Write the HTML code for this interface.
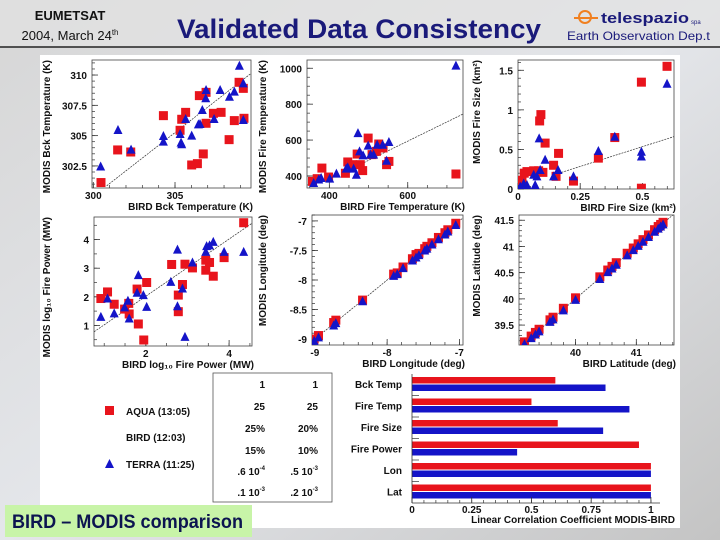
<!DOCTYPE html>
<html><head><meta charset="utf-8"><style>
html,body{margin:0;padding:0;width:720px;height:540px;overflow:hidden;background:#cfd0d4}
svg{display:block}
text{font-family:"Liberation Sans",sans-serif}
</style></head><body>
<svg id="s" width="720" height="540" viewBox="0 0 720 540">
<defs>
<linearGradient id="bg" x1="0" y1="0" x2="1" y2="1">
<stop offset="0" stop-color="#d6d6d6"/><stop offset="0.5" stop-color="#e4e6ea"/><stop offset="1" stop-color="#c4c4c4"/>
</linearGradient>
</defs>
<rect width="720" height="540" fill="url(#bg)"/>
<rect x="0" y="0" width="720" height="47" fill="#e2e2e2" opacity="0.7"/>
<text x="70" y="20" text-anchor="middle" font-size="13" font-weight="bold" fill="#111">EUMETSAT</text>
<text x="70" y="40" text-anchor="middle" font-size="13" fill="#111">2004, March 24<tspan font-size="8" dy="-5">th</tspan></text>
<text x="177" y="38" font-size="27" font-weight="bold" fill="#1a1a7a" textLength="364" lengthAdjust="spacingAndGlyphs">Validated Data Consistency</text>
<g>
<circle cx="585" cy="17" r="6" fill="none" stroke="#f08020" stroke-width="2"/>
<line x1="574" y1="18" x2="598" y2="18" stroke="#f08020" stroke-width="2"/>
<text x="601" y="23" font-size="15" font-weight="bold" fill="#1a1a7a" textLength="88" lengthAdjust="spacingAndGlyphs">telespazio</text>
<text x="691" y="24" font-size="6" fill="#1a1a7a">spa</text>
</g>
<text x="567" y="40" font-size="12" fill="#1a1a7a" textLength="143" lengthAdjust="spacingAndGlyphs">Earth Observation Dep.t</text>
<line x1="0" y1="47" x2="720" y2="47" stroke="#222" stroke-width="1.5"/>
<rect x="40" y="55" width="640" height="473" fill="#fff"/>
<g id="charts"></g>
<rect x="5" y="505" width="247" height="32" fill="#c8f4a8"/>
<text x="12" y="528" font-size="19" font-weight="bold" fill="#0c1450" textLength="231" lengthAdjust="spacingAndGlyphs">BIRD – MODIS comparison</text>
</svg>
<script>
// ---- data ----
const bckBirdRed=[300.47,301.49,302.29,304.29,305.31,305.41,305.65,306.02,306.37,306.49,306.73,306.90,306.90,307.35,307.82,308.31,308.63,308.92,309.18,309.22];
const bckModisRed=[301.13,303.82,303.65,306.65,305.44,306.35,306.92,302.58,302.69,308.30,303.49,308.57,306.02,306.84,306.92,304.67,306.24,309.40,308.90,306.43];
const bckBirdBlue=[300.45,301.51,302.31,304.29,304.29,305.31,305.37,305.41,305.65,306.02,306.43,306.53,306.67,306.88,306.90,307.39,307.76,308.33,308.63,308.94,309.18,309.18];
const bckModisBlue=[302.45,305.47,303.85,304.97,304.51,305.14,304.42,304.29,306.37,305.0,305.93,305.96,307.12,308.08,308.76,306.37,308.76,308.21,308.63,310.77,309.31,306.29];
const ftBirdRed=[357,369,381,398,441,447,458,471,479,485,499,509,520,526,537,546,552,723];
const ftModisRed=[370,385,444,394,415,478,463,522,463,430,611,519,537,578,556,463,481,411];
const ftBirdBlue=[360,373,379,401,418,443,447,462,469,473,477,486,499,505,513,522,536,546,552,723];
const ftModisBlue=[361,380,389,385,413,441,448,441,407,639,537,515,569,519,519,574,574,485,589,1015];
const fsBirdRed=[0.016,0.025,0.036,0.063,0.083,0.087,0.092,0.10,0.109,0.143,0.163,0.153,0.223,0.323,0.389,0.496,0.496,0.599];
const fsModisRed=[0.11,0.20,0.22,0.23,0.23,0.86,0.94,0.21,0.58,0.30,0.45,0.16,0.10,0.39,0.65,1.35,0.01,1.55];
const fsBirdBlue=[0.009,0.023,0.036,0.063,0.069,0.076,0.085,0.089,0.109,0.143,0.161,0.223,0.323,0.389,0.496,0.496,0.599];
const fsModisBlue=[0.03,0.07,0.05,0.18,0.05,0.16,0.64,0.24,0.37,0.16,0.24,0.16,0.48,0.66,0.47,0.41,1.33];
const fpBirdRed=[0.92,1.08,1.24,1.49,1.59,1.60,1.79,1.82,2.02,1.95,2.62,2.78,2.78,2.88,2.94,3.12,3.44,3.44,3.53,3.62,3.88,4.35];
const fpModisRed=[1.94,2.17,1.74,1.57,1.77,1.40,2.27,1.05,2.50,0.49,3.13,2.06,1.48,2.43,3.14,3.01,3.28,2.93,3.20,2.72,3.37,4.59];
const fpBirdBlue=[0.92,1.08,1.24,1.49,1.57,1.60,1.82,1.79,1.94,2.02,2.60,2.76,2.76,2.88,2.94,3.12,3.44,3.46,3.53,3.62,3.88,4.35];
const fpModisBlue=[1.30,1.94,1.42,1.63,1.86,1.24,2.76,2.14,2.06,1.65,2.52,3.65,1.67,2.29,0.60,3.20,3.57,3.77,3.80,3.92,3.57,3.57];
const lonBird=[-9.01,-8.95,-8.74,-8.71,-8.34,-7.91,-7.86,-7.78,-7.65,-7.60,-7.56,-7.48,-7.45,-7.38,-7.29,-7.20,-7.16,-7.05];
const lonModisRed=[-9.0,-8.94,-8.72,-8.68,-8.34,-7.9,-7.88,-7.78,-7.64,-7.57,-7.55,-7.47,-7.43,-7.37,-7.28,-7.2,-7.15,-7.04];
const lonModisBlue=[-9.03,-8.97,-8.77,-8.73,-8.36,-7.93,-7.9,-7.8,-7.67,-7.62,-7.58,-7.5,-7.47,-7.4,-7.31,-7.23,-7.18,-7.07];
const latBird=[39.16,39.27,39.34,39.40,39.58,39.63,39.80,40.0,40.40,40.53,40.6,40.67,40.85,40.95,41.03,41.11,41.2,41.3,41.36,41.4,41.44];
const latModisRed=[39.18,39.29,39.36,39.42,39.6,39.65,39.82,40.02,40.42,40.55,40.62,40.69,40.87,40.97,41.05,41.13,41.22,41.32,41.38,41.42,41.46];
const latModisBlue=[39.14,39.25,39.32,39.38,39.56,39.61,39.78,39.98,40.38,40.51,40.58,40.65,40.83,40.93,41.01,41.09,41.18,41.28,41.34,41.38,41.42];
const fitSlopes=[1.05,1.07,1.0,1.0,1.0,1.0];
const fitIntercepts=[-15.0,-48,0.035,0.02,0,0];
const barCategories=["Bck Temp","Fire Temp","Fire Size","Fire Power","Lon","Lat"];
const aquaCorr=[0.6,0.5,0.61,0.95,1,1];
const terraCorr=[0.81,0.91,0.8,0.44,1,1];
const barTicks=[0,0.25,0.5,0.75,1];
const barTickLabels=["0","0.25","0.5","0.75","1"];
const tableCol1=[["1",""],["25",""],["25%",""],["15%",""],[".6 10","-4"],[".1 10","-3"]];
const tableCol2=[["1",""],["25",""],["20%",""],["10%",""],[".5 10","-3"],[".2 10","-3"]];

const NS="http://www.w3.org/2000/svg";
const root=document.getElementById('charts');
function mk(tag,attrs,parent){const e=document.createElementNS(NS,tag);for(const k in attrs)e.setAttribute(k,attrs[k]);(parent||root).appendChild(e);return e;}

const panels=[
 {name:'bck-temp',x0:92,x1:251,y0:60,y1:188,xmin:299.92,xmax:309.65,ymin:300.68,ymax:311.24,xt:[300,305],xm:1,yt:[302.5,305,307.5,310],ym:0.5,bx:bckBirdRed,my:bckModisRed,bxb:bckBirdBlue,myb:bckModisBlue,fitFrom:300.82,xl:'BIRD Bck Temperature (K)',yl:'MODIS Bck Temperature (K)',ylx:50,fmt:v=>String(v)},
 {name:'fire-temp',x0:307,x1:463,y0:60,y1:188,xmin:343,xmax:741,ymin:333,ymax:1046,xt:[400,600],xm:50,yt:[400,600,800,1000],ym:50,bx:ftBirdRed,my:ftModisRed,bxb:ftBirdBlue,myb:ftModisBlue,fitFrom:440,xl:'BIRD Fire Temperature (K)',yl:'MODIS Fire Temperature (K)',ylx:266,fmt:v=>String(v)},
 {name:'fire-size',x0:518,x1:674,y0:60,y1:189,xmin:0,xmax:0.627,ymin:0,ymax:1.63,xt:[0,0.25,0.5],xm:0.05,yt:[0,0.5,1,1.5],ym:0.1,bx:fsBirdRed,my:fsModisRed,bxb:fsBirdBlue,myb:fsModisBlue,fitFrom:0.14,xl:'BIRD Fire Size (km²)',yl:'MODIS Fire Size (km²)',ylx:480,fmt:v=>String(v)},
 {name:'fire-power',x0:94,x1:252,y0:217,y1:346,xmin:0.755,xmax:4.55,ymin:0.28,ymax:4.79,xt:[2,4],xm:0.5,yt:[1,2,3,4],ym:0.5,bx:fpBirdRed,my:fpModisRed,bxb:fpBirdBlue,myb:fpModisBlue,fitFrom:0.755,xl:'BIRD log₁₀ Fire Power (MW)',yl:'MODIS log₁₀ Fire Power (MW)',ylx:50,fmt:v=>String(v)},
 {name:'longitude',x0:312,x1:463,y0:215,y1:345,xmin:-9.04,xmax:-6.95,ymin:-9.1,ymax:-6.9,xt:[-9,-8,-7],xm:0.2,yt:[-9,-8.5,-8,-7.5,-7],ym:0.1,bx:lonBird,my:lonModisRed,bxb:lonBird,myb:lonModisBlue,fitFrom:-9.04,xl:'BIRD Longitude (deg)',yl:'MODIS Longitude (deg)',ylx:266,fmt:v=>String(v)},
 {name:'latitude',x0:519,x1:674,y0:215,y1:345,xmin:39.07,xmax:41.62,ymin:39.12,ymax:41.6,xt:[40,41],xm:0.2,yt:[39.5,40,40.5,41,41.5],ym:0.1,bx:latBird,my:latModisRed,bxb:latBird,myb:latModisBlue,fitFrom:39.12,xl:'BIRD Latitude (deg)',yl:'MODIS Latitude (deg)',ylx:480,fmt:v=>String(v)}
];

panels.forEach((p,pi)=>{
 const sx=v=>p.x0+(v-p.xmin)/(p.xmax-p.xmin)*(p.x1-p.x0);
 const sy=v=>p.y1-(v-p.ymin)/(p.ymax-p.ymin)*(p.y1-p.y0);
 const g=mk('g',{});
 
 
 const fr=mk('rect',{x:p.x0,y:p.y0,width:p.x1-p.x0,height:p.y1-p.y0,fill:'#fff',stroke:'#444','stroke-width':0.8},g);
 
 
 // minor ticks
 for(let v=Math.ceil(p.xmin/p.xm)*p.xm;v<=p.xmax;v+=p.xm){const x=sx(v);mk('line',{x1:x,x2:x,y1:p.y1,y2:p.y1-3,stroke:'#333','stroke-width':0.7},g);}
 for(let v=Math.ceil(p.ymin/p.ym)*p.ym;v<=p.ymax;v+=p.ym){const y=sy(v);mk('line',{x1:p.x0,x2:p.x0+3,y1:y,y2:y,stroke:'#333','stroke-width':0.7},g);}
 p.xt.forEach(v=>{const x=sx(v);mk('line',{x1:x,x2:x,y1:p.y1,y2:p.y1-6,stroke:'#333','stroke-width':0.8},g);
  const t=mk('text',{x:x,y:p.y1+11,'text-anchor':'middle','font-size':10,'font-weight':'bold',fill:'#111'},g);t.textContent=p.fmt(v);
  
  });
 p.yt.forEach(v=>{const y=sy(v);mk('line',{x1:p.x0,x2:p.x0+6,y1:y,y2:y,stroke:'#333','stroke-width':0.8},g);
  const t=mk('text',{x:p.x0-5,y:y+4,'text-anchor':'end','font-size':10,'font-weight':'bold',fill:'#111'},g);t.textContent=p.fmt(v);
  
  });
 const xt=mk('text',{x:p.x1+2,y:p.y1+22,'text-anchor':'end','font-size':10,'font-weight':'bold',fill:'#111'},g);xt.textContent=p.xl;
 
 
 const yt=mk('text',{x:0,y:0,'text-anchor':'end','font-size':10,'font-weight':'bold',fill:'#111',transform:`translate(${p.ylx},${p.y0}) rotate(-90)`},g);yt.textContent=p.yl;
 
 
 // fit line clipped
 const cid='clip'+pi;const cp=mk('clipPath',{id:cid},g);mk('rect',{x:p.x0,y:p.y0,width:p.x1-p.x0,height:p.y1-p.y0},cp);
 const a=fitSlopes[pi],b=fitIntercepts[pi];
 const fl=mk('line',{x1:sx(p.fitFrom),y1:sy(a*p.fitFrom+b),x2:sx(p.xmax),y2:sy(a*p.xmax+b),stroke:'#333','stroke-width':0.7,'stroke-dasharray':'2,1','clip-path':`url(#${cid})`},g);
 
 
 const pg=mk('g',{'clip-path':`url(#${cid})`},g);
 p.bx.forEach((v,i)=>{const x=sx(v),y=sy(p.my[i]);const r=mk('rect',{x:x-4.5,y:y-4.5,width:9,height:9,fill:'#e8141c'},pg);
  
  });
 p.bxb.forEach((v,i)=>{const x=sx(v),y=sy(p.myb[i]);const t=mk('polygon',{points:`${x},${y-5} ${x-4.5},${y+4} ${x+4.5},${y+4}`,fill:'#1414c8'},pg);
  
  });
});

// legend
const lg=mk('g',{});


mk('rect',{x:105,y:406,width:9,height:9,fill:'#e8141c'},lg);
let t=mk('text',{x:126,y:415,'font-size':10,'font-weight':'bold',fill:'#111'},lg);t.textContent='AQUA (13:05)';


t=mk('text',{x:126,y:441,'font-size':10,'font-weight':'bold',fill:'#111'},lg);t.textContent='BIRD (12:03)';


mk('polygon',{points:'109.5,459 105,468 114,468',fill:'#1414c8'},lg);
t=mk('text',{x:126,y:468,'font-size':10,'font-weight':'bold',fill:'#111'},lg);t.textContent='TERRA (11:25)';



// table
const tb=mk('g',{});


mk('rect',{x:213,y:373,width:119,height:129,fill:'#fff',stroke:'#555','stroke-width':0.8},tb);
const rowY=[388,410,432,454,475,496];
[tableCol1,tableCol2].forEach((col,ci)=>{col.forEach((c,i)=>{
 const e=mk('text',{x:ci?318:265,y:rowY[i],'text-anchor':'end','font-size':10,'font-weight':'bold',fill:'#111'},tb);
 e.textContent=c[0];
 if(c[1]){const s=mk('tspan',{'font-size':6,dy:-5},e);s.textContent=c[1];}
 
 
});});

// bar chart
const bx0=412,bx1=660,by0=374,by1=503,bmax=1.038;
const bsx=v=>bx0+v/bmax*(bx1-bx0);
const bg2=mk('g',{});


const pitch=(by1-by0)/barCategories.length;
barCategories.forEach((c,i)=>{
 const top=by0+i*pitch;
 const r1=mk('rect',{x:bx0,y:top+3,width:bsx(aquaCorr[i])-bx0,height:6.5,fill:'#e8141c'},bg2);
 
 
 const r2=mk('rect',{x:bx0,y:top+10.5,width:bsx(terraCorr[i])-bx0,height:6.5,fill:'#1414c8'},bg2);
 
 
 const l=mk('text',{x:402,y:top+14,'text-anchor':'end','font-size':10,'font-weight':'bold',fill:'#111'},bg2);l.textContent=c;
 
 
 if(i>0)mk('line',{x1:bx0,x2:bx0+7,y1:top,y2:top,stroke:'#333','stroke-width':0.7},bg2);
});
mk('line',{x1:bx0,x2:bx0,y1:by0,y2:by1,stroke:'#333','stroke-width':0.8},bg2);
mk('line',{x1:bx0,x2:bx1,y1:by1,y2:by1,stroke:'#333','stroke-width':0.8},bg2);
for(let v=0;v<=bmax;v+=0.05){mk('line',{x1:bsx(v),x2:bsx(v),y1:by1,y2:by1-3,stroke:'#333','stroke-width':0.7},bg2);}
barTicks.forEach((v,i)=>{mk('line',{x1:bsx(v),x2:bsx(v),y1:by1,y2:by1-6,stroke:'#333','stroke-width':0.8},bg2);
 const l=mk('text',{x:bsx(v),y:by1+10,'text-anchor':'middle','font-size':10,'font-weight':'bold',fill:'#111'},bg2);l.textContent=barTickLabels[i];
 
 });
const bt=mk('text',{x:675,y:523,'text-anchor':'end','font-size':10,'font-weight':'bold',fill:'#111'},bg2);bt.textContent='Linear Correlation Coefficient MODIS-BIRD';


</script>
</body></html>
